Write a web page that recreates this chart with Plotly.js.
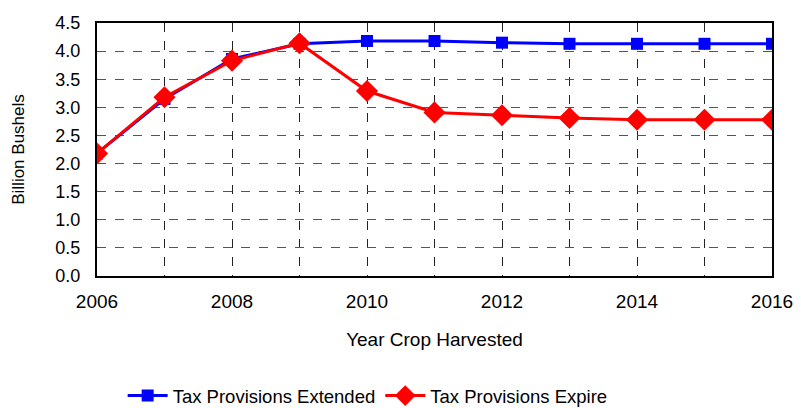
<!DOCTYPE html>
<html><head><meta charset="utf-8">
<script src="https://cdn.plot.ly/plotly-3.0.1.min.js"></script>
<style>html,body{margin:0;padding:0;background:#fff}#chart{width:801px;height:408px}</style>
</head><body><div id="chart"></div>
<script>
const years = [2006,2007,2008,2009,2010,2011,2012,2013,2014,2015,2016];
const extended = [2.18,3.15,3.86,4.13,4.18,4.18,4.15,4.13,4.13,4.13,4.13];
const expire = [2.18,3.18,3.83,4.14,3.29,2.91,2.86,2.81,2.78,2.78,2.78];
const xTickLabels = ['2006','','2008','','2010','','2012','','2014','','2016'];

const font = {family:'Liberation Sans, Arial, sans-serif', color:'#000', size:18};
const traces = [
  {x:years, y:extended, name:'Tax Provisions Extended', mode:'lines+markers',
   line:{color:'#0000ff', width:3}, marker:{symbol:'square', size:12, color:'#0000ff'}},
  {x:years, y:expire, name:'Tax Provisions Expire', mode:'lines+markers',
   line:{color:'#ff0000', width:3}, marker:{symbol:'diamond', size:17, color:'#ff0000'}}
];
const layout = {
  width:801, height:408, margin:{l:97, r:29, t:23, b:132},
  paper_bgcolor:'#fff', plot_bgcolor:'#fff', font:font, showlegend:true,
  xaxis:{range:[2006,2016], tickvals:years, ticktext:xTickLabels, ticks:'',
    showgrid:true, gridcolor:'#222', griddash:'dash', gridwidth:1,
    showline:true, linecolor:'#000', linewidth:2, mirror:true, zeroline:false,
    automargin:false, tickfont:{size:19}, ticklabelstandoff:7,
    title:{text:'Year Crop Harvested', font:{size:19}, standoff:22}},
  yaxis:{range:[0,4.5], dtick:0.5, tickformat:'.1f', ticks:'',
    showgrid:true, gridcolor:'#555', griddash:'dash', gridwidth:1,
    showline:true, linecolor:'#000', linewidth:2, mirror:true, zeroline:false,
    automargin:false, tickfont:{size:18}, ticklabelstandoff:11,
    title:{text:'Billion Bushels', font:{size:17}, standoff:26}},
  legend:{orientation:'h', x:0.459, xanchor:'center', xref:'container',
    y:12/408, yanchor:'middle', yref:'container',
    font:{size:18.5}, itemwidth:40, traceorder:'normal'}
};
Plotly.newPlot('chart', traces, layout, {displayModeBar:false, staticPlot:true});
</script></body></html>
